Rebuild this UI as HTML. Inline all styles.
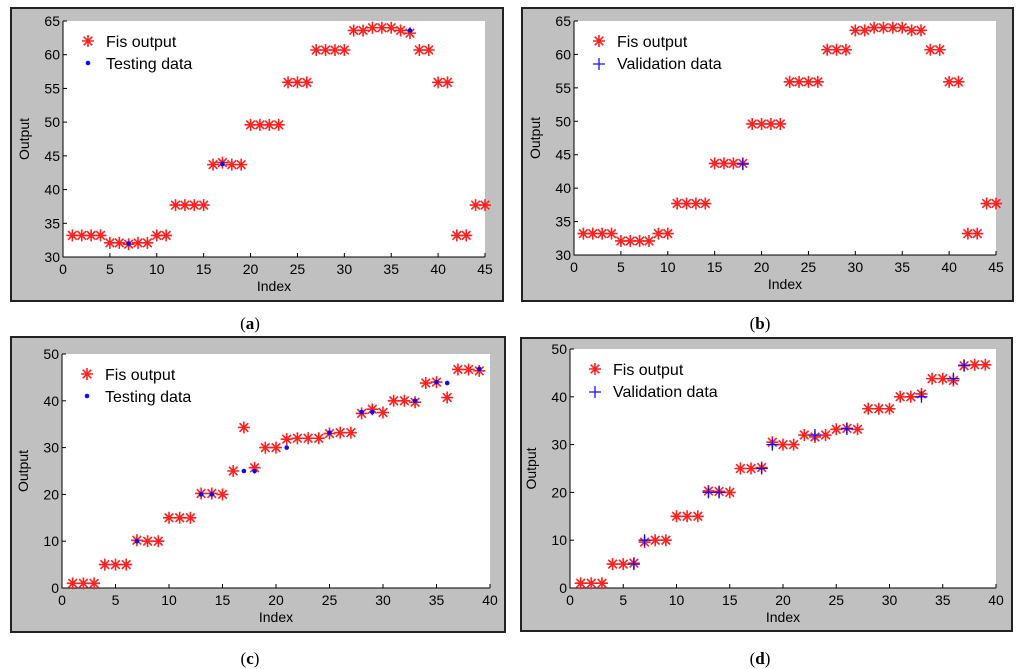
<!DOCTYPE html>
<html><head><meta charset="utf-8"><style>
body{margin:0;background:#fff;width:1024px;height:669px;overflow:hidden;font-family:"Liberation Sans",sans-serif}
svg{position:absolute;left:0;top:0}
</style></head><body>
<svg id="s" width="1024" height="669" viewBox="0 0 1024 669"></svg>
<script>
const aFis=[33.2,33.2,33.2,33.2,32.1,32.1,31.9,32.1,32.1,33.2,33.2,37.7,37.7,37.7,37.7,43.7,44,43.7,43.7,49.6,49.6,49.6,49.6,55.9,55.9,55.9,60.7,60.7,60.7,60.7,63.6,63.6,64,64,64,63.6,63.2,60.7,60.7,55.9,55.9,33.2,33.2,37.7,37.7];
const aTestX=[7,17,37];
const aTestY=[32,43.8,63.6];
const bFis=[33.2,33.2,33.2,33.2,32.1,32.1,32.1,32.1,33.2,33.2,37.7,37.7,37.7,37.7,43.7,43.7,43.7,43.7,49.6,49.6,49.6,49.6,55.9,55.9,55.9,55.9,60.7,60.7,60.7,63.6,63.6,64,64,64,64,63.6,63.6,60.7,60.7,55.9,55.9,33.2,33.2,37.7,37.7];
const bValX=[18];
const bValY=[43.6];
const cFis=[1,1,1,5,5,5,10.2,10,10,15,15,15,20.2,20.2,20,25,34.3,25.7,30,30,31.8,32,32,32,33,33.2,33.2,37.3,38.2,37.5,40,40,39.7,43.8,44,40.7,46.7,46.7,46.4];
const cTestX=[7,13,14,17,18,21,25,28,29,33,35,36,39];
const cTestY=[10,20,20,25,25,30,33.2,37.6,37.6,40,44,43.8,46.8];
const dFis=[1,1,1,5,5,5.2,9.6,10,10,15,15,15,20.3,20.2,20,25,25,25.2,30.5,30,30,32,31.6,32,33.2,33.4,33.2,37.5,37.5,37.5,40,40,40.6,43.8,43.8,43.4,46.5,46.7,46.7];
const dValX=[6,7,13,14,18,19,23,26,33,36,37];
const dValY=[5,10,20,20,25,30,32,33.3,40,43.8,46.6];
const xTicksA=[0,5,10,15,20,25,30,35,40,45];
const yTicksA=[30,35,40,45,50,55,60,65];
const xTicksC=[0,5,10,15,20,25,30,35,40];
const yTicksC=[0,10,20,30,40,50];

const S=document.getElementById('s');
const NS='http://www.w3.org/2000/svg';
function mk(tag,attrs,parent){const e=document.createElementNS(NS,tag);for(const k in attrs)e.setAttribute(k,attrs[k]);(parent||S).appendChild(e);return e;}
function txt(str,x,y,size,anchor,parent){const t=mk('text',{x:x,y:y,'font-size':size,'text-anchor':anchor||'middle',fill:'#000','font-family':'Liberation Sans, sans-serif'},parent);t.textContent=str;return t;}
function star(g,x,y){const r=6,d=4.3;mk('path',{d:`M${x-r},${y}H${x+r}M${x},${y-r}V${y+r}M${x-d},${y-d}L${x+d},${y+d}M${x-d},${y+d}L${x+d},${y-d}`,stroke:'#ff2020','stroke-width':1.6,fill:'none'},g);}
function plus(g,x,y){mk('path',{d:`M${x-6},${y}H${x+6}M${x},${y-6}V${y+6}`,stroke:'#1010ff','stroke-width':1.3,fill:'none'},g);}
function dot(g,x,y){mk('circle',{cx:x,cy:y,r:2.3,fill:'#0010ff'},g);}

function panel(id,box,ax,xr,yr,xt,yt,fis,vx,vy,kind,label,cap,capX,capY){
  const g=mk('g',{});
  
  
  const bg=mk('rect',{x:box[0],y:box[1],width:box[2]-box[0],height:box[3]-box[1],fill:'#c0c0c0',stroke:'#222','stroke-width':2},g);
  
  
  const [L,T,R,B]=ax;
  const pa=mk('rect',{x:L,y:T,width:R-L,height:B-T,fill:'#fff'},g);
  
  
  const X=v=>L+(v-xr[0])/(xr[1]-xr[0])*(R-L);
  const Y=v=>B-(v-yr[0])/(yr[1]-yr[0])*(B-T);
  mk('path',{d:`M${L},${T}V${B}H${R}`,stroke:'#000','stroke-width':1,fill:'none'},g);
  const xg=mk('g',{},g);
  
  
  xt.forEach(v=>{mk('line',{x1:X(v),x2:X(v),y1:B,y2:B-4,stroke:'#000'},xg);txt(String(v),X(v),B+17,14,'middle',xg);});
  const yg=mk('g',{},g);
  
  
  yt.forEach(v=>{mk('line',{x1:L,x2:L+4,y1:Y(v),y2:Y(v),stroke:'#000'},yg);txt(String(v),L-3,Y(v)+5,14,'end',yg);});
  const xl=txt('Index',(L+R)/2,B+34,14,'middle',g);
  
  
  const yl=txt('Output',0,0,14,'middle',g);
  yl.setAttribute('transform',`translate(${L-34},${(T+B)/2}) rotate(-90)`);
  
  
  const fg=mk('g',{},g);
  
  
  fis.forEach((v,i)=>star(fg,X(i+1),Y(v)));
  const vg=mk('g',{},g);
  
  
  vx.forEach((x,i)=>{kind==='dot'?dot(vg,X(x),Y(vy[i])):plus(vg,X(x),Y(vy[i]));});
  const lg=mk('g',{},g);
  
  
  star(lg,L+25,T+20);txt('Fis output',L+43,T+26,16,'start',lg);
  kind==='dot'?dot(lg,L+25,T+42):plus(lg,L+25,T+43);
  txt(label,L+43,T+48,16,'start',lg);
  const c=mk('text',{x:capX,y:capY,'font-size':17,'text-anchor':'middle','font-family':'Liberation Serif, serif'},S);
  c.innerHTML='(<tspan font-weight="bold">'+cap+'</tspan>)';
  
  
}
panel('a',[11,8,503,301],[63,21,485,257],[0,45],[30,65],xTicksA,yTicksA,aFis,aTestX,aTestY,'dot','Testing data','a',250,329);
panel('b',[522,8,1013,301],[574,21,996,255],[0,45],[30,65],xTicksA,yTicksA,bFis,bValX,bValY,'plus','Validation data','b',760,329);
panel('c',[11,337,505,632],[62,354,490,588],[0,40],[0,50],xTicksC,yTicksC,cFis,cTestX,cTestY,'dot','Testing data','c',250,664);
panel('d',[521,338,1012,631],[570,349,996,588],[0,40],[0,50],xTicksC,yTicksC,dFis,dValX,dValY,'plus','Validation data','d',760,664);
</script>
</body></html>
